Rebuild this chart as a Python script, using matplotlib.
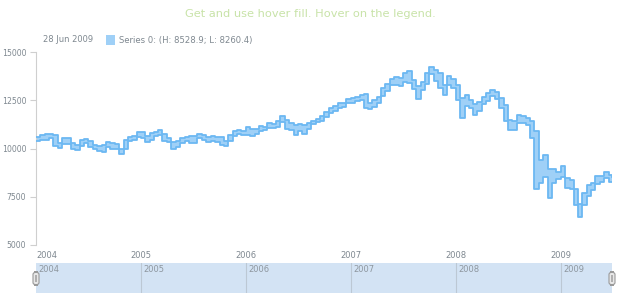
import matplotlib.pyplot as plt
import pandas as pd
from matplotlib.patches import FancyBboxPatch

# semi-monthly high / low values
dates = [
    "2004-01-01", "2004-01-16", "2004-02-01", "2004-02-16", "2004-03-01", "2004-03-16",
    "2004-04-01", "2004-04-16", "2004-05-01", "2004-05-16", "2004-06-01", "2004-06-16",
    "2004-07-01", "2004-07-16", "2004-08-01", "2004-08-16", "2004-09-01", "2004-09-16",
    "2004-10-01", "2004-10-16", "2004-11-01", "2004-11-16", "2004-12-01", "2004-12-16",
    "2005-01-01", "2005-01-16", "2005-02-01", "2005-02-16", "2005-03-01", "2005-03-16",
    "2005-04-01", "2005-04-16", "2005-05-01", "2005-05-16", "2005-06-01", "2005-06-16",
    "2005-07-01", "2005-07-16", "2005-08-01", "2005-08-16", "2005-09-01", "2005-09-16",
    "2005-10-01", "2005-10-16", "2005-11-01", "2005-11-16", "2005-12-01", "2005-12-16",
    "2006-01-01", "2006-01-16", "2006-02-01", "2006-02-16", "2006-03-01", "2006-03-16",
    "2006-04-01", "2006-04-16", "2006-05-01", "2006-05-16", "2006-06-01", "2006-06-16",
    "2006-07-01", "2006-07-16", "2006-08-01", "2006-08-16", "2006-09-01", "2006-09-16",
    "2006-10-01", "2006-10-16", "2006-11-01", "2006-11-16", "2006-12-01", "2006-12-16",
    "2007-01-01", "2007-01-16", "2007-02-01", "2007-02-16", "2007-03-01", "2007-03-16",
    "2007-04-01", "2007-04-16", "2007-05-01", "2007-05-16", "2007-06-01", "2007-06-16",
    "2007-07-01", "2007-07-16", "2007-08-01", "2007-08-16", "2007-09-01", "2007-09-16",
    "2007-10-01", "2007-10-16", "2007-11-01", "2007-11-16", "2007-12-01", "2007-12-16",
    "2008-01-01", "2008-01-16", "2008-02-01", "2008-02-16", "2008-03-01", "2008-03-16",
    "2008-04-01", "2008-04-16", "2008-05-01", "2008-05-16", "2008-06-01", "2008-06-16",
    "2008-07-01", "2008-07-16", "2008-08-01", "2008-08-16", "2008-09-01", "2008-09-16",
    "2008-10-01", "2008-10-16", "2008-11-01", "2008-11-16", "2008-12-01", "2008-12-16",
    "2009-01-01", "2009-01-16", "2009-02-01", "2009-02-16", "2009-03-01", "2009-03-16",
    "2009-04-01", "2009-04-16", "2009-05-01", "2009-05-16", "2009-06-01", "2009-06-16",
    "2009-06-28",
]
highs = [
    10600, 10700, 10750, 10750, 10700, 10300, 10550, 10550, 10300, 10200, 10450, 10500,
    10400, 10200, 10150, 10200, 10350, 10300, 10250, 10000, 10450, 10600, 10650, 10850,
    10850, 10650, 10800, 10850, 10950, 10750, 10550, 10350, 10400, 10550, 10600, 10650,
    10650, 10750, 10700, 10600, 10650, 10600, 10600, 10400, 10700, 10900, 10950, 10900,
    11100, 11000, 11000, 11150, 11100, 11300, 11250, 11400, 11700, 11500, 11300, 11200,
    11250, 11200, 11300, 11450, 11550, 11700, 11900, 12100, 12200, 12350, 12350, 12550,
    12600, 12650, 12750, 12800, 12350, 12500, 12650, 13150, 13350, 13600, 13700, 13650,
    13900, 14000, 13550, 13250, 13450, 13900, 14200, 14050, 13900, 13300, 13750, 13600,
    13300, 12600, 12750, 12500, 12300, 12400, 12650, 12900, 13050, 12950, 12600, 12250,
    11500, 11450, 11750, 11700, 11600, 11450, 10900, 9400, 9650, 8950, 8950, 8800,
    9100, 8450, 8350, 7900, 7100, 7700, 8100, 8200, 8600, 8550, 8800, 8650,
    8528.9,
]
lows = [
    10400, 10450, 10450, 10550, 10150, 10050, 10250, 10250, 9950, 9900, 10150, 10300,
    10100, 9950, 9850, 9800, 10100, 10000, 9950, 9720, 10000, 10400, 10450, 10600,
    10550, 10350, 10450, 10650, 10700, 10400, 10350, 10000, 10100, 10300, 10400, 10300,
    10300, 10550, 10450, 10350, 10400, 10350, 10200, 10150, 10400, 10650, 10750, 10700,
    10700, 10650, 10750, 10900, 10950, 11050, 11050, 11100, 11350, 11000, 10950, 10700,
    10900, 10750, 11000, 11250, 11350, 11450, 11650, 11850, 11950, 12100, 12150, 12350,
    12350, 12450, 12500, 12100, 12050, 12150, 12350, 12700, 13000, 13300, 13300, 13250,
    13450, 13400, 13100, 12550, 13050, 13350, 13850, 13500, 13150, 12750, 13300, 13150,
    12500, 11600, 12200, 12100, 11750, 11950, 12300, 12450, 12700, 12550, 12100, 11400,
    10950, 10950, 11300, 11300, 11200, 10550, 7900, 8200, 8500, 7450, 8200, 8400,
    8500, 7950, 7900, 7050, 6450, 7050, 7550, 7850, 8150, 8250, 8450, 8250,
    8260.4,
]
year_labels = ["2004", "2005", "2006", "2007", "2008", "2009"]
y_ticks = [5000, 7500, 10000, 12500, 15000]

x = pd.to_datetime(dates)
years = pd.to_datetime([y + "-01-01" for y in year_labels])

fill_c = "#9fd0f7"
line_c = "#6cb8f2"
text_c = "#7f8890"

fig = plt.figure(figsize=(6.2, 3.0), dpi=100)
W, H = 620.0, 300.0

# main chart
ax = fig.add_axes([36 / W, 1 - 245 / H, 576 / W, 193 / H])
ax.fill_between(x, lows, highs, step="post", color=fill_c, lw=0, zorder=2)
ax.step(x, highs, where="post", color=line_c, lw=1.3, zorder=3)
ax.step(x, lows, where="post", color=line_c, lw=1.3, zorder=3)
ax.set_xlim(pd.Timestamp("2004-01-01"), pd.Timestamp("2009-06-28"))
ax.set_ylim(5000, 15000)
ax.set_yticks(y_ticks)
ax.set_yticklabels([str(v) for v in y_ticks])
ax.set_xticks(years)
ax.set_xticklabels(year_labels)
ax.get_xticklabels()[0].set_horizontalalignment("left")
for s in ("top", "right", "bottom"):
    ax.spines[s].set_visible(False)
ax.spines["left"].set_color("#cfcfcf")
ax.tick_params(axis="y", colors="#cfcfcf", labelcolor=text_c, labelsize=5.6, length=4, pad=3)
ax.tick_params(axis="x", length=0, labelcolor=text_c, labelsize=6, pad=4)

# title + legend line
fig.text(0.5, 1 - 14 / H, "Get and use hover fill. Hover on the legend.",
         ha="center", va="center", color="#c8e3a8", fontsize=8.2)
fig.text(43 / W, 1 - 40 / H, "28 Jun 2009", ha="left", va="center", color=text_c, fontsize=6)
fig.patches.append(plt.Rectangle((106 / W, 1 - 44.5 / H), 9 / W, 9 / H,
                                 transform=fig.transFigure, color=fill_c, lw=0))
fig.text(119 / W, 1 - 40 / H, "Series 0: (H: 8528.9; L: 8260.4)", ha="left", va="center",
         color=text_c, fontsize=6.1)

# navigator
nav = fig.add_axes([36 / W, 1 - 293 / H, 576 / W, 30 / H])
nav.set_xlim(ax.get_xlim())
nav.set_ylim(0, 1)
nav.set_facecolor("#d3e3f4")
for s in nav.spines.values():
    s.set_visible(False)
nav.set_xticks([])
nav.set_yticks([])
for yr, lab in zip(years, year_labels):
    if yr > years[0]:
        nav.axvline(yr, color="#bcc8d4", lw=0.8)
    nav.text(yr + pd.Timedelta(days=8), 0.78, lab, color="#8e979f", fontsize=6,
             ha="left", va="center")

# handles
for hx in (36, 612):
    fig.patches.append(FancyBboxPatch(((hx - 3) / W, 1 - 285 / H), 6 / W, 13 / H,
                                      boxstyle="round,pad=0,rounding_size=0.008",
                                      transform=fig.transFigure, facecolor="#e8e8e8",
                                      edgecolor="#9a9a9a", lw=0.8))
    fig.patches.append(plt.Rectangle(((hx - 1.2) / W, 1 - 282 / H), 2.4 / W, 7 / H,
                                     transform=fig.transFigure, facecolor="#b0b0b0", lw=0))

fig.savefig("out.png", dpi=100)
